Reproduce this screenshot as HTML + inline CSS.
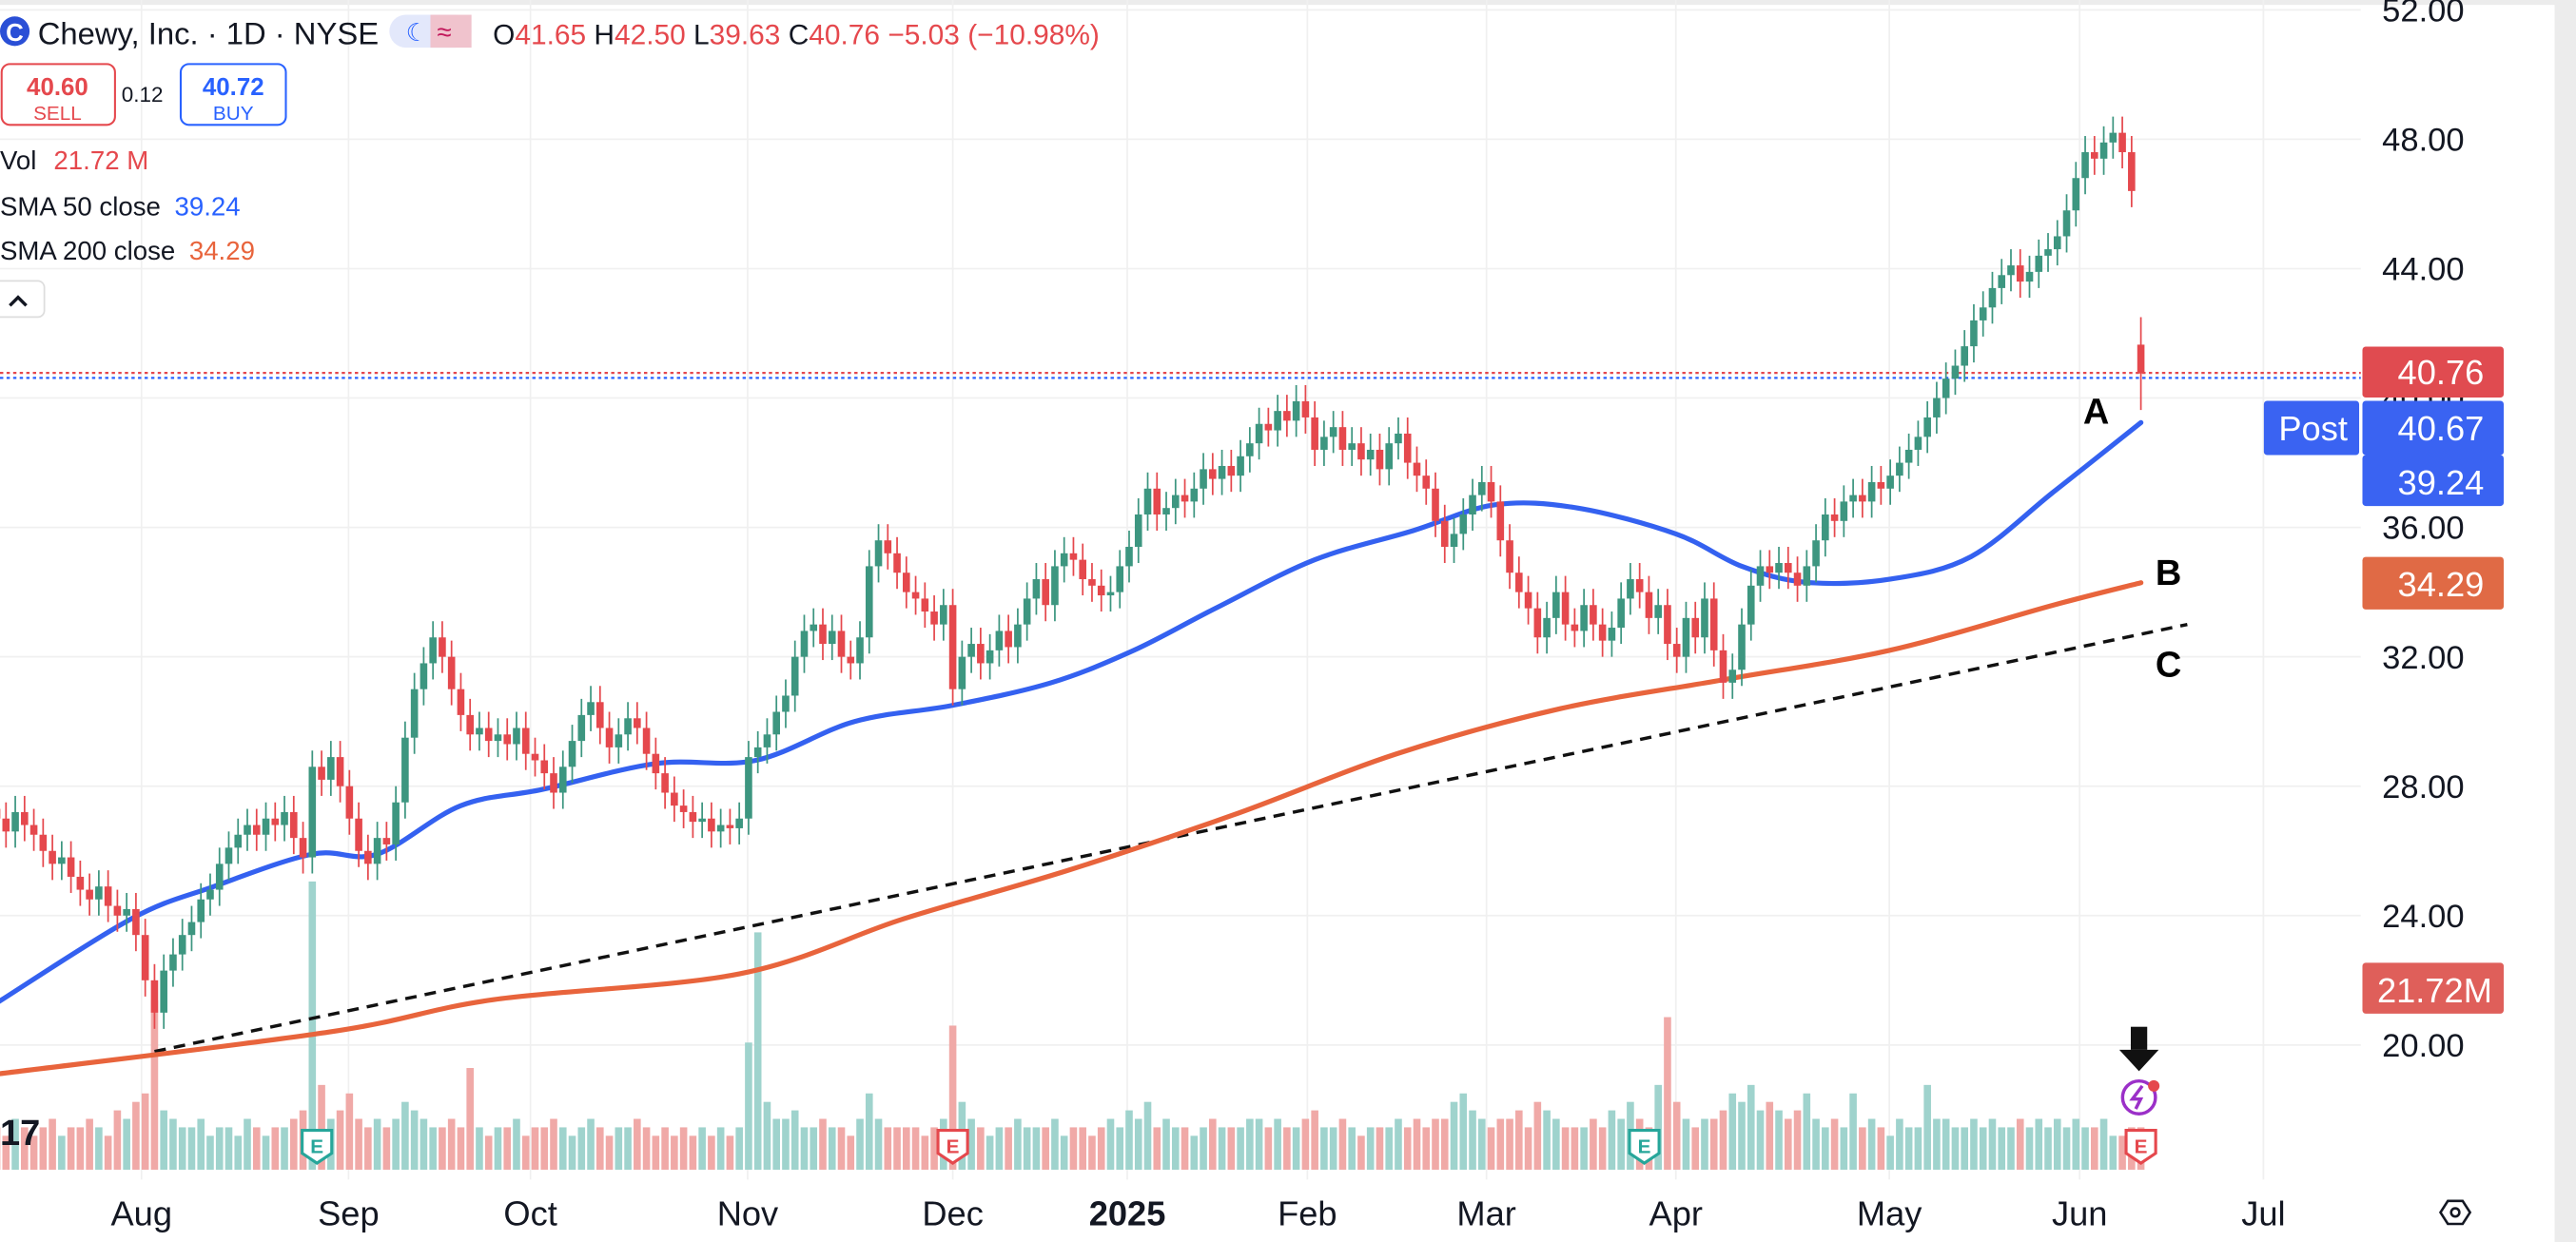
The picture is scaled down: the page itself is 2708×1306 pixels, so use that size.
<!DOCTYPE html>
<html><head><meta charset="utf-8"><style>
html,body{margin:0;padding:0;background:#fff;}
svg{display:block;font-family:"Liberation Sans",sans-serif;}
</style></head><body>
<svg id="chart" width="2708" height="1306" viewBox="0 0 1568 756" preserveAspectRatio="none" xmlns="http://www.w3.org/2000/svg">
<rect x="0" y="0" width="1568" height="756" fill="#fff"/>
<rect x="0" y="0" width="1568" height="3" fill="#ececec"/>
<rect x="1555" y="0" width="13" height="756" fill="#ececec"/>
<g id="grid"></g>
<g id="vol"></g>
<g id="lines"></g>
<g id="candles"></g>
<g id="axis"></g>
<g>
<circle cx="9" cy="19" r="9" fill="#2a4fd6"/>
<text x="9" y="25" font-size="15" font-weight="bold" fill="#fff" text-anchor="middle">C</text>
<text x="23" y="27" font-size="19" fill="#131722">Chewy, Inc. · 1D · NYSE</text>
<rect x="237" y="9" width="50" height="20" rx="10" fill="#e3e8fb"/>
<rect x="262" y="9" width="25" height="20" fill="#f0c3cd"/>
<text x="247" y="25" font-size="15" fill="#2962ff">☾</text>
<text x="266" y="25" font-size="16" fill="#c2185b">≈</text>
<text x="300" y="27" font-size="17.3" fill="#131722">O<tspan fill="#e5484d">41.65</tspan> H<tspan fill="#e5484d">42.50</tspan> L<tspan fill="#e5484d">39.63</tspan> C<tspan fill="#e5484d">40.76 −5.03 (−10.98%)</tspan></text>
<rect x="1" y="39" width="69" height="37" rx="5" fill="#fff" stroke="#e5484d" stroke-width="1.2"/>
<text x="35" y="58" font-size="15" font-weight="bold" fill="#e5484d" text-anchor="middle">40.60</text>
<text x="35" y="73" font-size="12" fill="#e5484d" text-anchor="middle">SELL</text>
<text x="74" y="62" font-size="13" fill="#131722">0.12</text>
<rect x="110" y="39" width="64" height="37" rx="5" fill="#fff" stroke="#2962ff" stroke-width="1.2"/>
<text x="142" y="58" font-size="15" font-weight="bold" fill="#2962ff" text-anchor="middle">40.72</text>
<text x="142" y="73" font-size="12" fill="#2962ff" text-anchor="middle">BUY</text>
<text x="0" y="103" font-size="16" fill="#131722">Vol <tspan fill="#e5484d" dx="6">21.72 M</tspan></text>
<text x="0" y="131" font-size="16" fill="#131722">SMA 50 close <tspan fill="#2962ff" dx="4">39.24</tspan></text>
<text x="0" y="158" font-size="16" fill="#131722">SMA 200 close <tspan fill="#e8643c" dx="4">34.29</tspan></text>
<rect x="-4" y="171" width="31" height="22" rx="4" fill="#fff" stroke="#ddd"/>
<path d="M6 186 L11 181 L16 186" stroke="#131722" stroke-width="2" fill="none"/>
</g>
<text x="0" y="697" font-size="22" font-weight="bold" fill="#131722">17</text>
</svg>
<script>
const closes=[27,26.6,27.2,26.8,26.5,26.0,25.6,25.8,25.2,24.8,24.5,24.9,24.3,24.0,24.2,23.4,22.0,21.0,22.3,22.8,
23.4,23.8,24.5,24.8,25.6,26.1,26.5,26.8,26.5,27.0,26.8,27.2,26.4,25.8,28.6,28.2,28.9,28.0,27.0,26.0,
25.6,26.4,26.2,27.5,29.5,31.0,31.8,32.6,32.0,31.0,30.2,29.6,29.8,29.4,29.6,29.3,29.8,29.0,28.8,28.4,
27.8,28.6,29.4,30.2,30.6,29.8,29.2,29.6,30.1,29.8,29.0,28.4,27.8,27.4,27.2,26.9,27.0,26.6,26.8,26.7,
27.0,28.9,29.2,29.6,30.3,30.8,32.0,32.8,33.0,32.4,32.8,32.0,31.8,32.6,34.8,35.6,35.2,34.6,34.0,33.8,
33.4,33.0,33.6,31.0,32.0,32.4,31.8,32.2,32.8,32.3,33.0,33.8,34.4,33.6,34.8,35.2,35.0,34.4,34.2,33.9,
34.0,34.8,35.4,36.4,37.2,36.4,36.6,37.0,36.8,37.2,37.8,37.5,37.9,37.6,38.2,38.6,39.2,39.0,39.6,39.3,
39.9,39.4,38.4,38.8,39.1,38.4,38.6,38.1,38.4,37.8,38.6,38.9,38.0,37.6,37.2,36.2,35.4,35.8,36.4,37.0,
37.4,36.8,35.6,34.6,34.0,33.5,32.6,33.2,34.0,33.0,32.8,33.6,33.0,32.5,32.9,33.8,34.4,34.0,33.2,33.6,
32.4,32.0,33.2,32.6,33.8,32.2,31.2,31.6,33.0,34.2,34.8,34.6,34.9,34.6,34.2,34.8,35.6,36.4,36.2,36.8,
37.0,36.8,37.4,37.2,37.6,38.0,38.4,38.8,39.4,40.0,40.6,41.0,41.6,42.4,42.8,43.4,43.8,44.1,43.6,43.9,
44.4,44.6,45.0,45.8,46.8,47.6,47.4,47.9,48.2,47.6,46.4,40.76];
const firstOpen=27.3;
const lastOpen=41.65, lastHigh=42.50, lastLow=39.63;
const volumes=[5,4,6,5,4,5,6,4,5,5,6,5,4,7,6,8,9,20,7,6,
5,5,6,4,5,5,4,6,5,4,5,5,6,7,34,10,6,7,9,6,
5,6,5,6,8,7,6,5,5,6,5,12,5,4,5,5,6,4,5,5,6,5,4,5,6,5,4,5,5,6,
5,4,5,4,5,4,5,4,5,4,5,15,28,8,6,6,7,5,5,6,
5,5,4,6,9,6,5,5,5,5,4,5,6,17,8,6,5,4,5,5,
6,5,5,5,6,4,5,5,4,5,6,5,7,6,8,5,6,5,5,4,
5,6,5,5,5,6,6,5,6,5,5,6,7,5,5,6,5,4,5,5,
5,6,5,6,5,6,6,8,9,7,6,5,6,6,7,5,8,7,6,5,
5,5,6,5,7,6,8,6,5,10,18,8,6,5,6,6,7,9,8,10,
7,8,7,6,7,9,6,5,6,5,9,5,6,5,4,6,5,5,10,6,
6,5,5,6,5,6,5,5,6,5,6,5,6,5,6,5,5,6,4,4,
5,5,6,8,5,5,6,5,6,7,8,21.72];
const smaIdx=[0,14.5,23.4,34,41,50,58.8,71,81.8,92.4,103,113.6,122.5,131.3,142,152.6,161.4,170.3,180.9,188,195,204,212.7,221.6,231];
const sma50=[21.3,23.9,24.9,25.9,25.9,27.4,27.9,28.7,28.8,30.0,30.5,31.2,32.2,33.5,35.0,35.9,36.7,36.6,35.8,34.8,34.3,34.4,35.1,37.1,39.24];
const sma200Idx=[0,35.8,53.5,80,97.7,115.4,133.1,150.8,168.5,186.2,203.9,221.6,231];
const sma200=[19.1,20.4,21.4,22.2,23.9,25.4,27.1,29.0,30.4,31.3,32.2,33.6,34.29];
const priceTicks=[52,48,44,40,36,32,28,24,20];
const monthLabels=["Aug","Sep","Oct","Nov","Dec","2025","Feb","Mar","Apr","May","Jun","Jul"];
const monthIdx=[15.6,37.9,57.5,80.9,103,121.8,141.2,160.5,180.9,203.9,224.4,244.2];
const trendIdx=[17,236];const trendVal=[19.8,33.0];
const earnIdx=[34.5,103,177.5,231];const earnColor=["#26a69a","#e5484d","#26a69a","#e5484d"];

const NS="http://www.w3.org/2000/svg";
const X0=-2, DX=5.65;
function xs(i){return X0+DX*i;}
function ys(p){return 6+(52-p)*19.69;}
const VOLBASE=712, VK=5.16;
function yv(v){return VOLBASE-v*VK;}
function mk(tag,attrs,parent){const e=document.createElementNS(NS,tag);for(const k in attrs)e.setAttribute(k,attrs[k]);parent.appendChild(e);return e;}
const grid=document.getElementById('grid'),vol=document.getElementById('vol'),lines=document.getElementById('lines'),cg=document.getElementById('candles'),axis=document.getElementById('axis');

priceTicks.forEach(p=>{
 const l=mk('line',{x1:0,x2:1437,y1:ys(p),y2:ys(p),stroke:'#f0f0f0','stroke-width':1},grid);
 
 
 const t=mk('text',{x:1475,y:ys(p)+7,'font-size':20,fill:'#131722','text-anchor':'middle'},axis);
 t.textContent=p.toFixed(2);
 
 
});
monthLabels.forEach((m,k)=>{
 const x=xs(monthIdx[k]);
 const l=mk('line',{x1:x,x2:x,y1:0,y2:718,stroke:'#f0f0f0','stroke-width':1},grid);
 
 
 const t=mk('text',{x:x,y:746,'font-size':21,fill:'#131722','text-anchor':'middle','font-weight':m==='2025'?'bold':'normal'},axis);
 t.textContent=m;
 
 
});
closes.forEach((c,i)=>{
 const o=i===0?firstOpen:(i===closes.length-1?lastOpen:closes[i-1]);
 const up=c>=o;
 const r=mk('rect',{x:xs(i)-2.2,y:yv(volumes[i]),width:4.4,height:volumes[i]*VK,fill:up?'#9fd3cd':'#f0a9a7'},vol);
 
 
});
const tl=mk('line',{x1:xs(trendIdx[0]),y1:ys(trendVal[0]),x2:xs(trendIdx[1]),y2:ys(trendVal[1]),stroke:'#111','stroke-width':2,'stroke-dasharray':'7,5'},lines);


function curve(idx,vals,color,name){
 const P=idx.map((i,k)=>[xs(i),ys(vals[k])]);
 let d='M'+P[0][0].toFixed(1)+' '+P[0][1].toFixed(1);
 for(let k=0;k<P.length-1;k++){
  const p0=P[Math.max(0,k-1)],p1=P[k],p2=P[k+1],p3=P[Math.min(P.length-1,k+2)];
  const c1=[p1[0]+(p2[0]-p0[0])/6,p1[1]+(p2[1]-p0[1])/6],c2=[p2[0]-(p3[0]-p1[0])/6,p2[1]-(p3[1]-p1[1])/6];
  d+=` C${c1[0].toFixed(1)} ${c1[1].toFixed(1)} ${c2[0].toFixed(1)} ${c2[1].toFixed(1)} ${p2[0].toFixed(1)} ${p2[1].toFixed(1)}`;
 }
 const p=mk('path',{d:d,fill:'none',stroke:color,'stroke-width':3,'stroke-linejoin':'round','stroke-linecap':'round'},lines);
 
 
}
curve(sma200Idx,sma200,'#e8643c','sma200-line');
curve(smaIdx,sma50,'#3461f0','sma50-line');
mk('line',{x1:0,x2:1437,y1:227,y2:227,stroke:'#e5484d','stroke-width':1.3,'stroke-dasharray':'2,2'},lines);
mk('line',{x1:0,x2:1437,y1:230,y2:230,stroke:'#2962ff','stroke-width':1.3,'stroke-dasharray':'2,2'},lines);
closes.forEach((c,i)=>{
 const last=i===closes.length-1;
 const o=i===0?firstOpen:(last?lastOpen:closes[i-1]);
 const up=c>=o;const col=up?'#3d9680':'#e5484d';
 const hi=last?lastHigh:Math.max(o,c)+0.5, lo=last?lastLow:Math.min(o,c)-0.5;
 const g=mk('g',{},cg);
 
 
 mk('line',{x1:xs(i),x2:xs(i),y1:ys(hi),y2:ys(lo),stroke:col,'stroke-width':1},g);
 const top=ys(Math.max(o,c)),h=Math.max(1,Math.abs(ys(o)-ys(c)));
 mk('rect',{x:xs(i)-2.2,y:top,width:4.4,height:h,fill:col},g);
});
earnIdx.forEach((i,k)=>{
 const x=xs(i),col=earnColor[k];
 const g=mk('g',{},axis);
 
 
 mk('path',{d:`M${x-9} 688 h18 v14 l-9 6 l-9 -6 z`,fill:'#fff',stroke:col,'stroke-width':1.8},g);
 const t=mk('text',{x:x,y:702,'font-size':12,'font-weight':'bold',fill:col,'text-anchor':'middle'},g);t.textContent='E';
});
</script>
<svg style="position:absolute;left:0;top:0" width="2708" height="1306" viewBox="0 0 1568 756" preserveAspectRatio="none" xmlns="http://www.w3.org/2000/svg" font-family="Liberation Sans, sans-serif">
<g>
<rect x="1297" y="625" width="10" height="14" fill="#111"/><path d="M1290 639 H1314 L1302 652 Z" fill="#111"/>
<circle cx="1302" cy="668" r="10" fill="#fff" stroke="#9b30c8" stroke-width="2"/>
<path d="M1304 661 L1298 669 H1303 L1300 675" stroke="#9b30c8" stroke-width="2" fill="none"/>
<circle cx="1311" cy="661" r="3.5" fill="#e5484d"/>
</g>
<text x="1268" y="258" font-size="22" font-weight="bold" fill="#000">A</text>
<text x="1312" y="356" font-size="22" font-weight="bold" fill="#000">B</text>
<text x="1312" y="412" font-size="22" font-weight="bold" fill="#000">C</text>
<g font-size="21" fill="#fff" text-anchor="end">
<rect x="1438" y="211" width="86" height="31" rx="2" fill="#e04b50"/><text x="1512" y="234">40.76</text>
<rect x="1378" y="244" width="58" height="33" rx="2" fill="#3a63f2"/><text x="1429" y="268">Post</text>
<rect x="1438" y="244" width="86" height="33" rx="2" fill="#3a63f2"/><text x="1512" y="268">40.67</text>
<rect x="1438" y="277" width="86" height="31" rx="2" fill="#3a63f2"/><text x="1512" y="301">39.24</text>
<rect x="1438" y="339" width="86" height="32" rx="2" fill="#e06a45"/><text x="1512" y="363">34.29</text>
<rect x="1438" y="586" width="86" height="31" rx="2" fill="#df5f5a"/><text x="1517" y="610">21.72M</text>
</g>
<g>
<path d="M1490 731 h9 l4.5 7 l-4.5 7 h-9 l-4.5 -7 z" fill="none" stroke="#131722" stroke-width="1.5"/>
<circle cx="1494.5" cy="738" r="2.5" fill="none" stroke="#131722" stroke-width="1.5"/>
</g>
</svg>
</body></html>
